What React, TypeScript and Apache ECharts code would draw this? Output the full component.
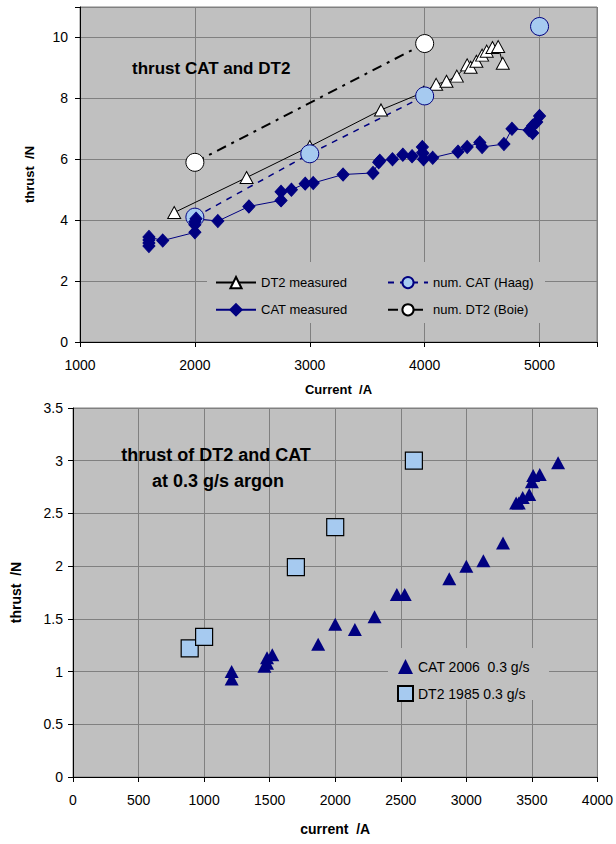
import React, { useEffect, useRef } from 'react';
import * as echarts from 'echarts';

// ---------- Top chart data (x: current /A, y: thrust /N) ----------
const dt2Measured: [number, number][] = [
  [1820, 4.25], [2450, 5.4], [3000, 6.42], [3620, 7.62], [3990, 8.2],
  [4100, 8.46], [4190, 8.56], [4280, 8.73], [4370, 9.1], [4400, 9.02],
  [4450, 9.22], [4500, 9.42], [4540, 9.55], [4590, 9.67], [4640, 9.7], [4680, 9.15],
];
const catMeasured: [number, number][] = [
  [1600, 3.15], [1600, 3.25], [1600, 3.35], [1600, 3.45], [1720, 3.33],
  [2000, 3.6], [2000, 3.85], [2000, 3.95], [2010, 4.05], [2200, 3.97],
  [2470, 4.45], [2750, 4.65], [2750, 4.93], [2840, 5.0], [2960, 5.2],
  [3030, 5.22], [3290, 5.5], [3550, 5.55], [3600, 5.9], [3610, 5.95],
  [3720, 6.0], [3810, 6.15], [3890, 6.1], [3980, 6.4], [3985, 6.2],
  [3990, 6.0], [4070, 6.05], [4290, 6.25], [4370, 6.4], [4480, 6.55],
  [4500, 6.4], [4690, 6.5], [4760, 7.0], [4910, 6.95], [4940, 6.86],
  [4940, 7.1], [4975, 7.22], [5000, 7.42],
];
const numCatHaag: [number, number | string][] = [
  [2000, 4.1], [3000, 6.18], [4000, 8.08], [4500, '-'], [5000, 10.36],
];
const numDt2Boie: [number, number][] = [[2000, 5.9], [4000, 9.8]];

// ---------- Bottom chart data ----------
const cat2006: [number, number][] = [
  [1210, 0.93], [1210, 1.0], [1460, 1.05], [1480, 1.08], [1480, 1.13],
  [1520, 1.16], [1870, 1.26], [2000, 1.45], [2150, 1.4], [2300, 1.52],
  [2470, 1.73], [2530, 1.73], [2870, 1.88], [3000, 2.0], [3130, 2.05],
  [3280, 2.22], [3380, 2.6], [3400, 2.6], [3430, 2.65], [3480, 2.68],
  [3500, 2.8], [3510, 2.86], [3560, 2.87], [3700, 2.98],
];
const dt21985: [number, number][] = [[890, 1.22], [1000, 1.33], [1700, 1.99], [2000, 2.37], [2600, 3.0]];

const NAVY = '#000080';
const LIGHTBLUE = '#a6caf0';
const PLOT_BG = '#c0c0c0';
const GRID_LINE = '#808080';
const FONT = '"Liberation Sans", Arial, sans-serif';

export default function App() {
  const ref = useRef<HTMLDivElement>(null);
  useEffect(() => {
    if (!ref.current) return;
    const chart = echarts.init(ref.current, undefined, { renderer: 'svg' });
    const axisCommon = {
      axisLine: { show: true, lineStyle: { color: '#000', width: 1 } },
      axisTick: { show: true, length: 5, lineStyle: { color: '#000' } },
      splitLine: { show: true, lineStyle: { color: GRID_LINE, width: 1 } },
    };
    chart.setOption({
      animation: false,
      textStyle: { fontFamily: FONT },
      grid: [
        { left: 80, top: 7, width: 517, height: 335, show: true, backgroundColor: PLOT_BG, borderColor: GRID_LINE, borderWidth: 1 },
        { left: 73, top: 408, width: 525, height: 369, show: true, backgroundColor: PLOT_BG, borderColor: GRID_LINE, borderWidth: 1 },
      ],
      xAxis: [
        {
          gridIndex: 0, type: 'value', min: 1000, max: 5500, interval: 1000,
          name: 'Current  /A', nameLocation: 'middle', nameGap: 41,
          nameTextStyle: { fontFamily: FONT, fontSize: 13, fontWeight: 'bold', color: '#000' },
          axisLabel: { fontFamily: FONT, fontSize: 14, color: '#000', margin: 16, formatter: (v: number) => (v === 5500 ? '' : String(v)) },
          ...axisCommon,
        },
        {
          gridIndex: 1, type: 'value', min: 0, max: 4000, interval: 500,
          name: 'current  /A', nameLocation: 'middle', nameGap: 45,
          nameTextStyle: { fontFamily: FONT, fontSize: 14, fontWeight: 'bold', color: '#000' },
          axisLabel: { fontFamily: FONT, fontSize: 14, color: '#000', margin: 16, formatter: (v: number) => String(v) },
          ...axisCommon,
        },
      ],
      yAxis: [
        {
          gridIndex: 0, type: 'value', min: 0, max: 11, interval: 2,
          name: 'thrust  /N', nameLocation: 'middle', nameGap: 44,
          nameTextStyle: { fontFamily: FONT, fontSize: 13, fontWeight: 'bold', color: '#000' },
          axisLabel: { fontFamily: FONT, fontSize: 14, color: '#000', margin: 12, formatter: (v: number) => (v === 11 ? '' : String(v)) },
          ...axisCommon,
        },
        {
          gridIndex: 1, type: 'value', min: 0, max: 3.5, interval: 0.5,
          name: 'thrust  /N', nameLocation: 'middle', nameGap: 50,
          nameTextStyle: { fontFamily: FONT, fontSize: 14, fontWeight: 'bold', color: '#000' },
          axisLabel: { fontFamily: FONT, fontSize: 14, color: '#000', margin: 10, formatter: (v: number) => String(v) },
          ...axisCommon,
        },
      ],
      legend: [
        {
          data: ['DT2 measured', 'CAT measured'], orient: 'vertical', left: 210, top: 271,
          itemWidth: 40, itemHeight: 14, itemGap: 14,
          textStyle: { fontFamily: FONT, fontSize: 13, color: '#000' },
        },
        {
          data: ['num. CAT (Haag)', 'num. DT2 (Boie)'], orient: 'vertical', left: 382, top: 271,
          itemWidth: 40, itemHeight: 14, itemGap: 14,
          textStyle: { fontFamily: FONT, fontSize: 13, color: '#000' },
        },
        {
          data: ['CAT 2006  0.3 g/s', 'DT2 1985 0.3 g/s'], orient: 'vertical', left: 392, top: 654,
          itemWidth: 15, itemHeight: 15, itemGap: 11,
          textStyle: { fontFamily: FONT, fontSize: 14, color: '#000' },
        },
      ],
      graphic: [
        { type: 'rect', z: 1, shape: { x: 207, y: 262, width: 338, height: 61 }, style: { fill: PLOT_BG } },
        { type: 'rect', z: 1, shape: { x: 388, y: 648, width: 161, height: 52 }, style: { fill: PLOT_BG } },
        { type: 'text', z: 5, x: 132, y: 68, style: { text: 'thrust CAT and DT2', font: `bold 17px ${FONT}`, fill: '#000', verticalAlign: 'middle' } },
        { type: 'text', z: 5, x: 216, y: 455, style: { text: 'thrust of DT2 and CAT', font: `bold 18px ${FONT}`, fill: '#000', align: 'center', verticalAlign: 'middle' } },
        { type: 'text', z: 5, x: 218, y: 481, style: { text: 'at 0.3 g/s argon', font: `bold 18px ${FONT}`, fill: '#000', align: 'center', verticalAlign: 'middle' } },
      ],
      series: [
        {
          name: 'DT2 measured', type: 'line', xAxisIndex: 0, yAxisIndex: 0, data: dt2Measured,
          symbol: 'triangle', symbolSize: [13, 12],
          lineStyle: { color: '#000', width: 1 },
          itemStyle: { color: '#fff', borderColor: '#000', borderWidth: 1 },
        },
        {
          name: 'num. CAT (Haag)', type: 'line', xAxisIndex: 0, yAxisIndex: 0, data: numCatHaag,
          symbol: 'circle', symbolSize: 18, connectNulls: false,
          lineStyle: { color: NAVY, width: 1.5, type: [6, 6] },
          itemStyle: { color: LIGHTBLUE, borderColor: NAVY, borderWidth: 1 },
        },
        {
          name: 'num. DT2 (Boie)', type: 'line', xAxisIndex: 0, yAxisIndex: 0, data: numDt2Boie,
          symbol: 'circle', symbolSize: 18,
          lineStyle: { color: '#000', width: 2, type: [10, 6, 3, 6] },
          itemStyle: { color: '#fff', borderColor: '#000', borderWidth: 1 },
        },
        {
          name: 'CAT measured', type: 'line', xAxisIndex: 0, yAxisIndex: 0, data: catMeasured,
          symbol: 'diamond', symbolSize: [12, 13],
          lineStyle: { color: NAVY, width: 1 },
          itemStyle: { color: NAVY, borderColor: NAVY, borderWidth: 1 },
        },
        {
          name: 'DT2 1985 0.3 g/s', type: 'scatter', xAxisIndex: 1, yAxisIndex: 1, data: dt21985,
          symbol: 'rect', symbolSize: 17,
          itemStyle: { color: LIGHTBLUE, borderColor: '#000', borderWidth: 1.2, opacity: 1 },
        },
        {
          name: 'CAT 2006  0.3 g/s', type: 'scatter', xAxisIndex: 1, yAxisIndex: 1, data: cat2006,
          symbol: 'triangle', symbolSize: [14, 13],
          itemStyle: { color: NAVY, opacity: 1 },
        },
      ],
    });
    return () => chart.dispose();
  }, []);
  return <div ref={ref} style={{ position: 'absolute', left: 0, top: 0, width: 616, height: 844 }} />;
}
